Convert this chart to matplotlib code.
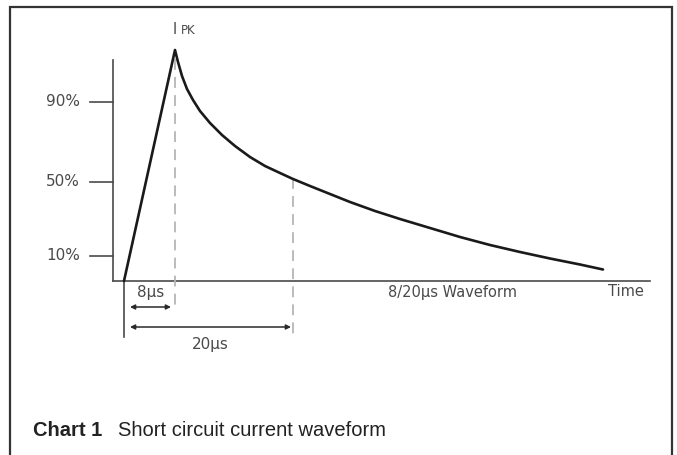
import matplotlib.pyplot as plt
from matplotlib.patches import FancyArrowPatch

# waveform (time in drawing units, level in drawing units)
curve_t = [0, 51, 54, 58, 63, 69, 76, 86, 98, 111, 126, 141, 156, 169, 186, 206,
           226, 251, 276, 306, 336, 366, 396, 426, 456, 479]
curve_i = [0, 231, 219, 205, 192, 181, 170, 158, 146, 135, 124, 115, 108, 102, 95, 87,
           79, 70, 62, 53, 44, 36, 29, 22.5, 16.5, 11.5]

tick_pos = [179, 99, 25]
tick_labels = ['90%', '50%', '10%']

t_front = 51     # 8 us mark
t_half = 169     # 20 us mark
front_label = '8µs'
half_label = '20µs'

grey = '#4a4a4a'
tfont = 'DejaVu Sans'

fig = plt.figure(figsize=(6.77, 4.55), dpi=100)
ax = fig.add_axes([0, 0, 1, 1])
ax.set_xlim(-124, 553)
ax.set_ylim(-174, 281)
ax.axis('off')

# frame around the chart (open at the bottom)
ax.plot([-114, -114, 548, 548], [-174, 274, 274, -174], color='#333333', lw=1.6,
        solid_joinstyle='miter')

# axes
ax.plot([-11, -11], [221, 0], color=grey, lw=1.2)
ax.plot([-11, 526], [0, 0], color=grey, lw=1.2)
for p, lab in zip(tick_pos, tick_labels):
    ax.plot([-34, -11], [p, p], color=grey, lw=1.2)
    ax.text(-44, p, lab, ha='right', va='center', fontsize=11, color=grey, family=tfont)

# dashed markers
ax.plot([t_front, t_front], [222, -29], color='#b5b5b5', lw=1.3, ls=(0, (6, 4)))
ax.plot([t_half, t_half], [103, -57], color='#b5b5b5', lw=1.3, ls=(0, (6, 4)))
ax.plot([0, 0], [0, -56], color=grey, lw=1.2)

# waveform
ax.plot(curve_t, curve_i, color='#1a1a1a', lw=1.9, solid_joinstyle='round',
        solid_capstyle='round')

# time arrows
for x1, y, lab, ly in [(t_front - 4, -26, front_label, -12), (t_half - 2, -46, half_label, -64)]:
    ax.add_patch(FancyArrowPatch((6, y), (x1, y), arrowstyle='<|-|>', mutation_scale=7,
                                 color='#2a2a2a', lw=1.1, shrinkA=0, shrinkB=0))
    ax.text((6 + x1) / 2, ly, lab, ha='center', va='center',
            fontsize=11, color=grey, family=tfont)

ax.text(49, 251, 'I', ha='left', va='center', fontsize=10.5, color=grey, family=tfont)
ax.text(57, 250, 'PK', ha='left', va='center', fontsize=8.5, color=grey, family=tfont)
ax.text(328, -11, '8/20µs Waveform', ha='center', va='center', fontsize=10.5, color=grey, family=tfont)
ax.text(502, -10, 'Time', ha='center', va='center', fontsize=10.5, color=grey, family=tfont)

# caption
ax.text(-91, -149, 'Chart 1', ha='left', va='center', fontsize=14.5, fontweight='bold',
        color='#222222', family='Liberation Sans')
ax.text(-6, -149, 'Short circuit current waveform', ha='left', va='center', fontsize=14.5,
        color='#222222', family='Liberation Sans')

fig.savefig('out.png', dpi=100)
